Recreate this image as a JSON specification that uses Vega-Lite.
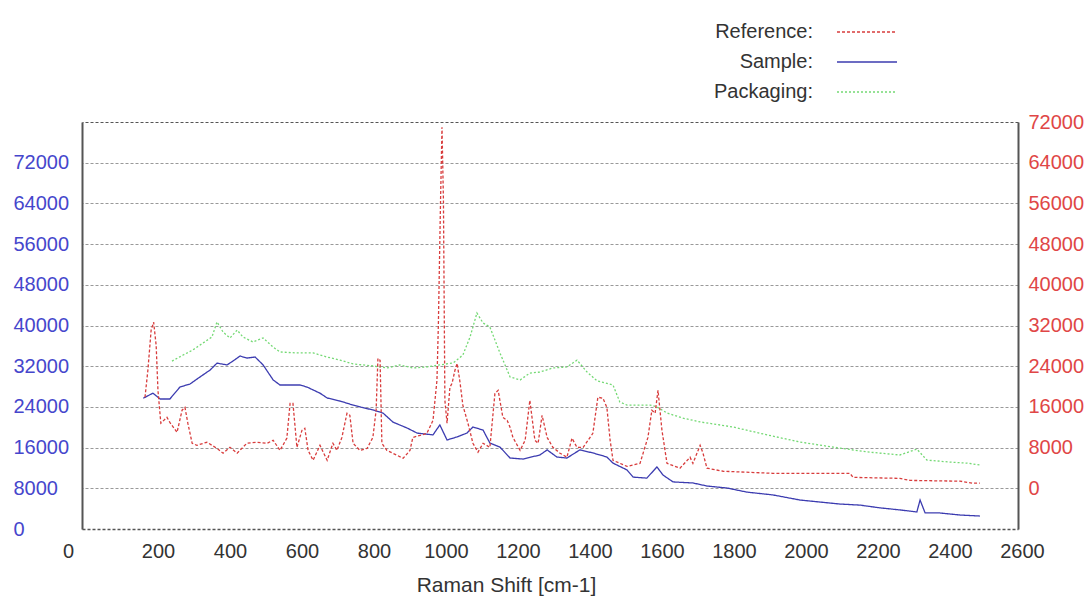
{
  "$schema": "https://vega.github.io/schema/vega-lite/v6.json",
  "width": 936,
  "height": 407,
  "autosize": "none",
  "padding": {"left": 82, "top": 122, "right": 73, "bottom": 76},
  "background": "white",
  "config": {"view": {"stroke": null}, "font": "Liberation Sans"},
  "data": {"values": [
    {"series": "Sample", "shift": 170, "intensity": 25700},
    {"series": "Sample", "shift": 197, "intensity": 26700},
    {"series": "Sample", "shift": 217, "intensity": 25550},
    {"series": "Sample", "shift": 244, "intensity": 25550},
    {"series": "Sample", "shift": 272, "intensity": 27900},
    {"series": "Sample", "shift": 300, "intensity": 28500},
    {"series": "Sample", "shift": 328, "intensity": 29900},
    {"series": "Sample", "shift": 356, "intensity": 31250},
    {"series": "Sample", "shift": 375, "intensity": 32600},
    {"series": "Sample", "shift": 403, "intensity": 32250},
    {"series": "Sample", "shift": 419, "intensity": 33000},
    {"series": "Sample", "shift": 439, "intensity": 34000},
    {"series": "Sample", "shift": 458, "intensity": 33600},
    {"series": "Sample", "shift": 481, "intensity": 33800},
    {"series": "Sample", "shift": 503, "intensity": 32250},
    {"series": "Sample", "shift": 531, "intensity": 29300},
    {"series": "Sample", "shift": 550, "intensity": 28300},
    {"series": "Sample", "shift": 606, "intensity": 28300},
    {"series": "Sample", "shift": 625, "intensity": 27900},
    {"series": "Sample", "shift": 661, "intensity": 26700},
    {"series": "Sample", "shift": 681, "intensity": 25750},
    {"series": "Sample", "shift": 717, "intensity": 25150},
    {"series": "Sample", "shift": 744, "intensity": 24550},
    {"series": "Sample", "shift": 772, "intensity": 24000},
    {"series": "Sample", "shift": 808, "intensity": 23400},
    {"series": "Sample", "shift": 836, "intensity": 22800},
    {"series": "Sample", "shift": 864, "intensity": 21000},
    {"series": "Sample", "shift": 903, "intensity": 19850},
    {"series": "Sample", "shift": 931, "intensity": 18850},
    {"series": "Sample", "shift": 975, "intensity": 18500},
    {"series": "Sample", "shift": 994, "intensity": 20450},
    {"series": "Sample", "shift": 1014, "intensity": 17500},
    {"series": "Sample", "shift": 1042, "intensity": 18100},
    {"series": "Sample", "shift": 1069, "intensity": 18850},
    {"series": "Sample", "shift": 1086, "intensity": 20050},
    {"series": "Sample", "shift": 1114, "intensity": 19450},
    {"series": "Sample", "shift": 1133, "intensity": 16900},
    {"series": "Sample", "shift": 1161, "intensity": 16100},
    {"series": "Sample", "shift": 1189, "intensity": 13950},
    {"series": "Sample", "shift": 1225, "intensity": 13750},
    {"series": "Sample", "shift": 1272, "intensity": 14550},
    {"series": "Sample", "shift": 1292, "intensity": 15550},
    {"series": "Sample", "shift": 1319, "intensity": 14150},
    {"series": "Sample", "shift": 1347, "intensity": 13950},
    {"series": "Sample", "shift": 1383, "intensity": 15550},
    {"series": "Sample", "shift": 1419, "intensity": 14950},
    {"series": "Sample", "shift": 1458, "intensity": 14150},
    {"series": "Sample", "shift": 1475, "intensity": 12950},
    {"series": "Sample", "shift": 1514, "intensity": 11600},
    {"series": "Sample", "shift": 1531, "intensity": 10200},
    {"series": "Sample", "shift": 1569, "intensity": 10000},
    {"series": "Sample", "shift": 1597, "intensity": 12200},
    {"series": "Sample", "shift": 1614, "intensity": 10600},
    {"series": "Sample", "shift": 1642, "intensity": 9250},
    {"series": "Sample", "shift": 1697, "intensity": 9050},
    {"series": "Sample", "shift": 1736, "intensity": 8450},
    {"series": "Sample", "shift": 1792, "intensity": 8050},
    {"series": "Sample", "shift": 1847, "intensity": 7250},
    {"series": "Sample", "shift": 1919, "intensity": 6700},
    {"series": "Sample", "shift": 1994, "intensity": 5700},
    {"series": "Sample", "shift": 2050, "intensity": 5300},
    {"series": "Sample", "shift": 2106, "intensity": 4900},
    {"series": "Sample", "shift": 2161, "intensity": 4700},
    {"series": "Sample", "shift": 2217, "intensity": 4150},
    {"series": "Sample", "shift": 2272, "intensity": 3750},
    {"series": "Sample", "shift": 2319, "intensity": 3350},
    {"series": "Sample", "shift": 2328, "intensity": 5700},
    {"series": "Sample", "shift": 2342, "intensity": 3150},
    {"series": "Sample", "shift": 2383, "intensity": 3150},
    {"series": "Sample", "shift": 2439, "intensity": 2750},
    {"series": "Sample", "shift": 2494, "intensity": 2550},
    {"series": "Packaging", "shift": 250, "intensity": 33000},
    {"series": "Packaging", "shift": 281, "intensity": 34200},
    {"series": "Packaging", "shift": 308, "intensity": 35200},
    {"series": "Packaging", "shift": 336, "intensity": 36550},
    {"series": "Packaging", "shift": 361, "intensity": 37750},
    {"series": "Packaging", "shift": 375, "intensity": 40700},
    {"series": "Packaging", "shift": 392, "intensity": 38700},
    {"series": "Packaging", "shift": 411, "intensity": 37550},
    {"series": "Packaging", "shift": 431, "intensity": 39100},
    {"series": "Packaging", "shift": 447, "intensity": 37750},
    {"series": "Packaging", "shift": 475, "intensity": 36750},
    {"series": "Packaging", "shift": 503, "intensity": 37550},
    {"series": "Packaging", "shift": 531, "intensity": 35750},
    {"series": "Packaging", "shift": 550, "intensity": 34800},
    {"series": "Packaging", "shift": 597, "intensity": 34600},
    {"series": "Packaging", "shift": 642, "intensity": 34600},
    {"series": "Packaging", "shift": 681, "intensity": 33800},
    {"series": "Packaging", "shift": 717, "intensity": 33200},
    {"series": "Packaging", "shift": 753, "intensity": 32450},
    {"series": "Packaging", "shift": 808, "intensity": 32050},
    {"series": "Packaging", "shift": 847, "intensity": 31650},
    {"series": "Packaging", "shift": 883, "intensity": 32250},
    {"series": "Packaging", "shift": 919, "intensity": 31650},
    {"series": "Packaging", "shift": 958, "intensity": 31850},
    {"series": "Packaging", "shift": 994, "intensity": 32250},
    {"series": "Packaging", "shift": 1031, "intensity": 32650},
    {"series": "Packaging", "shift": 1058, "intensity": 34200},
    {"series": "Packaging", "shift": 1078, "intensity": 37750},
    {"series": "Packaging", "shift": 1097, "intensity": 42450},
    {"series": "Packaging", "shift": 1114, "intensity": 40500},
    {"series": "Packaging", "shift": 1133, "intensity": 39700},
    {"series": "Packaging", "shift": 1161, "intensity": 34600},
    {"series": "Packaging", "shift": 1189, "intensity": 29900},
    {"series": "Packaging", "shift": 1217, "intensity": 29300},
    {"series": "Packaging", "shift": 1244, "intensity": 30650},
    {"series": "Packaging", "shift": 1272, "intensity": 30850},
    {"series": "Packaging", "shift": 1308, "intensity": 31650},
    {"series": "Packaging", "shift": 1347, "intensity": 31850},
    {"series": "Packaging", "shift": 1375, "intensity": 33200},
    {"series": "Packaging", "shift": 1403, "intensity": 30850},
    {"series": "Packaging", "shift": 1431, "intensity": 29100},
    {"series": "Packaging", "shift": 1475, "intensity": 28300},
    {"series": "Packaging", "shift": 1494, "intensity": 24950},
    {"series": "Packaging", "shift": 1514, "intensity": 24350},
    {"series": "Packaging", "shift": 1578, "intensity": 24350},
    {"series": "Packaging", "shift": 1597, "intensity": 24000},
    {"series": "Packaging", "shift": 1625, "intensity": 22800},
    {"series": "Packaging", "shift": 1669, "intensity": 21800},
    {"series": "Packaging", "shift": 1717, "intensity": 21050},
    {"series": "Packaging", "shift": 1808, "intensity": 20050},
    {"series": "Packaging", "shift": 1903, "intensity": 18500},
    {"series": "Packaging", "shift": 1994, "intensity": 17100},
    {"series": "Packaging", "shift": 2086, "intensity": 16100},
    {"series": "Packaging", "shift": 2181, "intensity": 15150},
    {"series": "Packaging", "shift": 2272, "intensity": 14550},
    {"series": "Packaging", "shift": 2319, "intensity": 15700},
    {"series": "Packaging", "shift": 2347, "intensity": 13550},
    {"series": "Packaging", "shift": 2411, "intensity": 13150},
    {"series": "Packaging", "shift": 2458, "intensity": 12950},
    {"series": "Packaging", "shift": 2494, "intensity": 12600},
    {"series": "Reference", "shift": 175, "intensity": 17900},
    {"series": "Reference", "shift": 183, "intensity": 23200},
    {"series": "Reference", "shift": 192, "intensity": 31050},
    {"series": "Reference", "shift": 199, "intensity": 32650},
    {"series": "Reference", "shift": 206, "intensity": 28100},
    {"series": "Reference", "shift": 211, "intensity": 19250},
    {"series": "Reference", "shift": 219, "intensity": 12800},
    {"series": "Reference", "shift": 236, "intensity": 13950},
    {"series": "Reference", "shift": 244, "intensity": 12950},
    {"series": "Reference", "shift": 264, "intensity": 11000},
    {"series": "Reference", "shift": 278, "intensity": 15350},
    {"series": "Reference", "shift": 286, "intensity": 15900},
    {"series": "Reference", "shift": 294, "intensity": 12800},
    {"series": "Reference", "shift": 306, "intensity": 8850},
    {"series": "Reference", "shift": 319, "intensity": 8450},
    {"series": "Reference", "shift": 347, "intensity": 9050},
    {"series": "Reference", "shift": 375, "intensity": 7850},
    {"series": "Reference", "shift": 392, "intensity": 6900},
    {"series": "Reference", "shift": 411, "intensity": 8050},
    {"series": "Reference", "shift": 431, "intensity": 6900},
    {"series": "Reference", "shift": 458, "intensity": 8850},
    {"series": "Reference", "shift": 486, "intensity": 9050},
    {"series": "Reference", "shift": 514, "intensity": 8850},
    {"series": "Reference", "shift": 531, "intensity": 9450},
    {"series": "Reference", "shift": 550, "intensity": 7450},
    {"series": "Reference", "shift": 569, "intensity": 9850},
    {"series": "Reference", "shift": 578, "intensity": 16700},
    {"series": "Reference", "shift": 586, "intensity": 16700},
    {"series": "Reference", "shift": 597, "intensity": 8050},
    {"series": "Reference", "shift": 611, "intensity": 11400},
    {"series": "Reference", "shift": 619, "intensity": 11800},
    {"series": "Reference", "shift": 628, "intensity": 7450},
    {"series": "Reference", "shift": 642, "intensity": 5500},
    {"series": "Reference", "shift": 661, "intensity": 8450},
    {"series": "Reference", "shift": 681, "intensity": 5500},
    {"series": "Reference", "shift": 697, "intensity": 8850},
    {"series": "Reference", "shift": 708, "intensity": 7450},
    {"series": "Reference", "shift": 722, "intensity": 10000},
    {"series": "Reference", "shift": 736, "intensity": 14750},
    {"series": "Reference", "shift": 744, "intensity": 14350},
    {"series": "Reference", "shift": 753, "intensity": 8850},
    {"series": "Reference", "shift": 772, "intensity": 7450},
    {"series": "Reference", "shift": 792, "intensity": 7850},
    {"series": "Reference", "shift": 808, "intensity": 10000},
    {"series": "Reference", "shift": 817, "intensity": 15350},
    {"series": "Reference", "shift": 822, "intensity": 25550},
    {"series": "Reference", "shift": 828, "intensity": 25150},
    {"series": "Reference", "shift": 833, "intensity": 8850},
    {"series": "Reference", "shift": 847, "intensity": 7450},
    {"series": "Reference", "shift": 875, "intensity": 6500},
    {"series": "Reference", "shift": 892, "intensity": 5900},
    {"series": "Reference", "shift": 911, "intensity": 7450},
    {"series": "Reference", "shift": 919, "intensity": 10000},
    {"series": "Reference", "shift": 939, "intensity": 10400},
    {"series": "Reference", "shift": 958, "intensity": 10800},
    {"series": "Reference", "shift": 975, "intensity": 13350},
    {"series": "Reference", "shift": 986, "intensity": 21250},
    {"series": "Reference", "shift": 990, "intensity": 32450},
    {"series": "Reference", "shift": 996, "intensity": 56600},
    {"series": "Reference", "shift": 1000, "intensity": 70950},
    {"series": "Reference", "shift": 1004, "intensity": 56600},
    {"series": "Reference", "shift": 1008, "intensity": 17300},
    {"series": "Reference", "shift": 1014, "intensity": 12800},
    {"series": "Reference", "shift": 1022, "intensity": 19850},
    {"series": "Reference", "shift": 1028, "intensity": 20650},
    {"series": "Reference", "shift": 1036, "intensity": 23200},
    {"series": "Reference", "shift": 1042, "intensity": 24550},
    {"series": "Reference", "shift": 1050, "intensity": 20850},
    {"series": "Reference", "shift": 1058, "intensity": 16300},
    {"series": "Reference", "shift": 1072, "intensity": 12800},
    {"series": "Reference", "shift": 1086, "intensity": 8850},
    {"series": "Reference", "shift": 1100, "intensity": 7100},
    {"series": "Reference", "shift": 1114, "intensity": 8850},
    {"series": "Reference", "shift": 1133, "intensity": 8050},
    {"series": "Reference", "shift": 1147, "intensity": 18650},
    {"series": "Reference", "shift": 1156, "intensity": 19250},
    {"series": "Reference", "shift": 1169, "intensity": 13950},
    {"series": "Reference", "shift": 1181, "intensity": 13350},
    {"series": "Reference", "shift": 1189, "intensity": 12000},
    {"series": "Reference", "shift": 1197, "intensity": 10000},
    {"series": "Reference", "shift": 1217, "intensity": 7450},
    {"series": "Reference", "shift": 1231, "intensity": 9450},
    {"series": "Reference", "shift": 1244, "intensity": 17300},
    {"series": "Reference", "shift": 1258, "intensity": 9450},
    {"series": "Reference", "shift": 1267, "intensity": 8850},
    {"series": "Reference", "shift": 1278, "intensity": 14350},
    {"series": "Reference", "shift": 1292, "intensity": 10000},
    {"series": "Reference", "shift": 1308, "intensity": 8050},
    {"series": "Reference", "shift": 1328, "intensity": 6900},
    {"series": "Reference", "shift": 1347, "intensity": 6100},
    {"series": "Reference", "shift": 1361, "intensity": 9850},
    {"series": "Reference", "shift": 1375, "intensity": 8050},
    {"series": "Reference", "shift": 1392, "intensity": 8050},
    {"series": "Reference", "shift": 1419, "intensity": 10800},
    {"series": "Reference", "shift": 1433, "intensity": 17900},
    {"series": "Reference", "shift": 1447, "intensity": 17700},
    {"series": "Reference", "shift": 1458, "intensity": 15900},
    {"series": "Reference", "shift": 1467, "intensity": 9450},
    {"series": "Reference", "shift": 1475, "intensity": 5500},
    {"series": "Reference", "shift": 1514, "intensity": 4300},
    {"series": "Reference", "shift": 1550, "intensity": 4900},
    {"series": "Reference", "shift": 1572, "intensity": 10000},
    {"series": "Reference", "shift": 1583, "intensity": 15350},
    {"series": "Reference", "shift": 1592, "intensity": 14750},
    {"series": "Reference", "shift": 1600, "intensity": 19250},
    {"series": "Reference", "shift": 1611, "intensity": 11400},
    {"series": "Reference", "shift": 1625, "intensity": 4900},
    {"series": "Reference", "shift": 1661, "intensity": 3950},
    {"series": "Reference", "shift": 1689, "intensity": 6100},
    {"series": "Reference", "shift": 1697, "intensity": 4900},
    {"series": "Reference", "shift": 1717, "intensity": 8450},
    {"series": "Reference", "shift": 1725, "intensity": 6900},
    {"series": "Reference", "shift": 1736, "intensity": 3950},
    {"series": "Reference", "shift": 1781, "intensity": 3350},
    {"series": "Reference", "shift": 1919, "intensity": 2950},
    {"series": "Reference", "shift": 2133, "intensity": 2950},
    {"series": "Reference", "shift": 2142, "intensity": 2150},
    {"series": "Reference", "shift": 2272, "intensity": 1950},
    {"series": "Reference", "shift": 2300, "intensity": 1550},
    {"series": "Reference", "shift": 2439, "intensity": 1400},
    {"series": "Reference", "shift": 2475, "intensity": 1000},
    {"series": "Reference", "shift": 2494, "intensity": 1000}
  ]},
  "encoding": {
    "x": {
      "field": "shift", "type": "quantitative",
      "scale": {"domain": [0, 2600], "nice": false, "zero": false},
      "axis": {
        "values": [0, 200, 400, 600, 800, 1000, 1200, 1400, 1600, 1800, 2000, 2200, 2400, 2600],
        "format": "d", "grid": false, "ticks": false,
        "labelFontSize": 20, "labelColor": "#333", "labelPadding": 12,
        "labelFlush": false, "labelOverlap": false, "labelBound": false,
        "labelOffset": {"condition": {"test": "datum.value == 0", "value": -14}, "value": 4},
        "domainDash": [3, 2], "domainColor": "#555", "domainWidth": 1.5,
        "title": "Raman Shift [cm-1]", "titleFontSize": 21, "titleFontWeight": "normal",
        "titleColor": "#333", "titleX": 424, "titleY": 56, "titleAlign": "center", "titleBaseline": "middle"
      }
    },
    "color": {
      "field": "series", "type": "nominal",
      "scale": {"domain": ["Reference", "Sample", "Packaging"], "range": ["#d83c3c", "#3c3cb0", "#74d974"]},
      "legend": {"orient": "none", "legendX": 775, "legendY": -100, "title": null, "symbolType": "M-5,0H5",
        "symbolSize": 144, "symbolStrokeWidth": 1.5, "labelFontSize": 20, "labelColor": "#333",
        "labelAlign": "right", "labelOffset": -64, "rowPadding": 10, "padding": 0,
        "labelExpr": "datum.label + ':'"}
    },
    "strokeDash": {
      "field": "series", "type": "nominal",
      "scale": {"domain": ["Reference", "Sample", "Packaging"], "range": [[3, 2], [1, 0], [2, 2]]},
      "legend": {"orient": "none", "legendX": 775, "legendY": -100, "title": null, "symbolType": "M-5,0H5",
        "symbolSize": 144, "symbolStrokeWidth": 1.5, "labelFontSize": 20, "labelColor": "#333",
        "labelAlign": "right", "labelOffset": -64, "rowPadding": 10, "padding": 0,
        "labelExpr": "datum.label + ':'"}
    }
  },
  "layer": [
    {
      "transform": [{"filter": "datum.series != 'Reference'"}],
      "mark": {"type": "line", "strokeWidth": 1.3},
      "encoding": {
        "y": {
          "field": "intensity", "type": "quantitative",
          "scale": {"domain": [0, 80000], "nice": false, "zero": false},
          "axis": {
            "orient": "left", "values": [0, 8000, 16000, 24000, 32000, 40000, 48000, 56000, 64000, 72000],
            "format": "d", "grid": false, "ticks": false, "labelAlign": "left", "labelPadding": 69,
            "labelColor": "#4646cc", "labelFontSize": 20, "labelFlush": false, "labelOverlap": false, "labelBound": false,
            "domainColor": "#555", "domainWidth": 2, "title": null
          }
        }
      }
    },
    {
      "transform": [{"filter": "datum.series == 'Reference'"}],
      "mark": {"type": "line", "strokeWidth": 1.3},
      "encoding": {
        "y": {
          "field": "intensity", "type": "quantitative",
          "scale": {"domain": [-8000, 72000], "nice": false, "zero": false},
          "axis": {
            "orient": "right", "values": [0, 8000, 16000, 24000, 32000, 40000, 48000, 56000, 64000, 72000],
            "format": "d", "grid": true, "gridDash": [3, 2],
            "gridColor": {"condition": {"test": "datum.value == 72000", "value": "#555"}, "value": "#999"},
            "gridWidth": 1,
            "ticks": false, "labelAlign": "left", "labelPadding": 10,
            "labelColor": "#e04646", "labelFontSize": 20, "labelFlush": false, "labelOverlap": false, "labelBound": false,
            "domainColor": "#555", "domainWidth": 2, "title": null
          }
        }
      }
    }
  ],
  "resolve": {"scale": {"y": "independent"}}
}
